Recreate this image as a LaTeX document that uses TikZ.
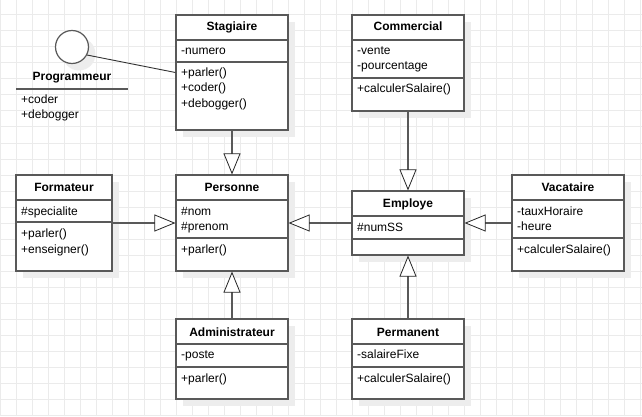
\documentclass[tikz,border=0pt]{standalone}
\usepackage{fontspec}
\setmainfont{Liberation Sans}
\usetikzlibrary{arrows.meta,shadows}
\tikzset{
  gridline/.style={draw=black!8,line width=1pt},
  cls/.style={draw=black!65,line width=1.2pt,fill=white,inner sep=0pt,
    drop shadow={shadow xshift=7pt,shadow yshift=-7pt,fill=black!7,opacity=1}},
  sep/.style={draw=black!65,line width=1.2pt},
  ttl/.style={font=\fontsize{12}{15}\selectfont\bfseries,inner sep=0pt,anchor=base},
  mbr/.style={inner sep=0pt,anchor=base west},
  inh/.style={draw=black!65,line width=1.2pt,
    -{Triangle[length=21pt,width=17pt,line width=0.8pt,color=black!85,fill=white]}},
  assoc/.style={draw=black!80,line width=0.9pt}
}
\begin{document}
\begin{tikzpicture}[x=1pt,y=-1pt,font=\fontsize{12}{15}\selectfont]
\useasboundingbox[fill=white] (0,0) rectangle (642,417);
\draw[gridline,yshift=1pt] (0pt,-417pt) grid[step=16pt] (642pt,1pt);
% interface
\node[cls,circle,minimum size=33pt] (prog_c) at (72,47) {};
\node[ttl] (prog_t) at (72,81) {Programmeur};
\draw[sep] (16,89) -- (128,89);
\node[mbr] (prog_m1) at (21,103) {+coder};
\node[mbr] (prog_m2) at (21,119) {+debogger};
% Stagiaire
\node[cls,minimum width=112pt,minimum height=115pt] (stag) at (232,72.5) {};
\node[ttl] (stag_t) at (232,31) {Stagiaire};
\draw[sep] (176,40) -- (288,40);
\node[mbr] (stag_a1) at (181,55) {-numero};
\draw[sep] (176,62) -- (288,62);
\node[mbr] (stag_m1) at (181,77) {+parler()};
\node[mbr] (stag_m2) at (181,92) {+coder()};
\node[mbr] (stag_m3) at (181,107) {+debogger()};
% Commercial
\node[cls,minimum width=112pt,minimum height=96pt] (comm) at (408,63) {};
\node[ttl] (comm_t) at (408,31) {Commercial};
\draw[sep] (352,40) -- (464,40);
\node[mbr] (comm_a1) at (357,55) {-vente};
\node[mbr] (comm_a2) at (357,70) {-pourcentage};
\draw[sep] (352,78) -- (464,78);
\node[mbr] (comm_m1) at (357,93) {+calculerSalaire()};
% Formateur
\node[cls,minimum width=96pt,minimum height=96pt] (form) at (64,223) {};
\node[ttl] (form_t) at (64,191) {Formateur};
\draw[sep] (16,200) -- (112,200);
\node[mbr] (form_a1) at (21,215) {\#specialite};
\draw[sep] (16,222) -- (112,222);
\node[mbr] (form_m1) at (21,237) {+parler()};
\node[mbr] (form_m2) at (21,253) {+enseigner()};
% Personne
\node[cls,minimum width=112pt,minimum height=96pt] (pers) at (232,223) {};
\node[ttl] (pers_t) at (232,191) {Personne};
\draw[sep] (176,200) -- (288,200);
\node[mbr] (pers_a1) at (181,215) {\#nom};
\node[mbr] (pers_a2) at (181,230) {\#prenom};
\draw[sep] (176,238) -- (288,238);
\node[mbr] (pers_m1) at (181,253) {+parler()};
% Employe
\node[cls,minimum width=112pt,minimum height=64pt] (emp) at (408,223) {};
\node[ttl] (emp_t) at (408,207) {Employe};
\draw[sep] (352,216) -- (464,216);
\node[mbr] (emp_a1) at (357,231) {\#numSS};
\draw[sep] (352,239) -- (464,239);
% Vacataire
\node[cls,minimum width=112pt,minimum height=96pt] (vac) at (568,223) {};
\node[ttl] (vac_t) at (568,191) {Vacataire};
\draw[sep] (512,200) -- (624,200);
\node[mbr] (vac_a1) at (517,215) {-tauxHoraire};
\node[mbr] (vac_a2) at (517,230) {-heure};
\draw[sep] (512,238) -- (624,238);
\node[mbr] (vac_m1) at (517,253) {+calculerSalaire()};
% Administrateur
\node[cls,minimum width=112pt,minimum height=80pt] (adm) at (232,359) {};
\node[ttl] (adm_t) at (232,336) {Administrateur};
\draw[sep] (176,344) -- (288,344);
\node[mbr] (adm_a1) at (181,358) {-poste};
\draw[sep] (176,367) -- (288,367);
\node[mbr] (adm_m1) at (181,382) {+parler()};
% Permanent
\node[cls,minimum width=112pt,minimum height=80pt] (perm) at (408,359) {};
\node[ttl] (perm_t) at (408,336) {Permanent};
\draw[sep] (352,344) -- (464,344);
\node[mbr] (perm_a1) at (357,358) {-salaireFixe};
\draw[sep] (352,367) -- (464,367);
\node[mbr] (perm_m1) at (357,382) {+calculerSalaire()};
% relations
\draw[assoc] (prog_c.-28) -- (stag.west);
\draw[inh] (stag) -- (pers);
\draw[inh] (form) -- (pers);
\draw[inh] (adm) -- (pers);
\draw[inh] (emp) -- (pers);
\draw[inh] (comm) -- (emp);
\draw[inh] (vac) -- (emp);
\draw[inh] (perm) -- (emp);
\end{tikzpicture}
\end{document}
